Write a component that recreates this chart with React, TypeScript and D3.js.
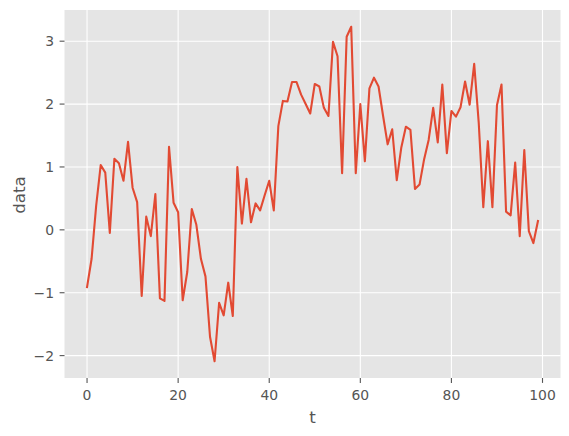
import React, { useRef, useEffect } from "react";
import * as d3 from "d3";

// values, t = 0..99
const tValues = d3.range(0, 100);
const dataValues = [
  -0.91, -0.46, 0.38, 1.03, 0.91, -0.05, 1.13, 1.06, 0.78, 1.4,
  0.67, 0.44, -1.05, 0.21, -0.1, 0.57, -1.09, -1.13, 1.32, 0.43,
  0.28, -1.12, -0.67, 0.33, 0.08, -0.46, -0.74, -1.7, -2.09, -1.16,
  -1.36, -0.84, -1.37, 1.0, 0.1, 0.81, 0.12, 0.42, 0.31, 0.55,
  0.78, 0.31, 1.65, 2.05, 2.04, 2.35, 2.35, 2.15, 2.0, 1.85,
  2.32, 2.28, 1.94, 1.81, 2.99, 2.76, 0.9, 3.07, 3.23, 0.9,
  2.0, 1.09, 2.25, 2.42, 2.28, 1.81, 1.36, 1.6, 0.79, 1.31,
  1.64, 1.59, 0.65, 0.72, 1.12, 1.43, 1.94, 1.39, 2.31, 1.22,
  1.89, 1.8, 1.95, 2.36, 1.99, 2.64, 1.7, 0.36, 1.41, 0.36,
  1.98, 2.31, 0.29, 0.23, 1.07, -0.1, 1.27, -0.02, -0.21, 0.14,
];
const xTicks = [0, 20, 40, 60, 80, 100];
const yTicks = [-2, -1, 0, 1, 2, 3];

const App = () => {
  const ref = useRef<SVGSVGElement | null>(null);

  useEffect(() => {
    const W = 569,
      H = 436;
    const left = 64.5,
      right = 560.5,
      top = 10,
      bottom = 378;

    const svg = d3.select(ref.current);
    svg.selectAll("*").remove();

    const tMin = d3.min(tValues) as number,
      tMax = d3.max(tValues) as number;
    const tPad = (tMax - tMin) * 0.05;
    const x = d3.scaleLinear().domain([tMin - tPad, tMax + tPad]).range([left, right]);

    const vMin = d3.min(dataValues) as number,
      vMax = d3.max(dataValues) as number;
    const vPad = (vMax - vMin) * 0.05;
    const y = d3.scaleLinear().domain([vMin - vPad, vMax + vPad]).range([bottom, top]);

    svg.append("rect").attr("width", W).attr("height", H).attr("fill", "#ffffff");
    svg
      .append("rect")
      .attr("x", left)
      .attr("y", top)
      .attr("width", right - left)
      .attr("height", bottom - top)
      .attr("fill", "#e5e5e5");

    const grid = svg.append("g").attr("stroke", "#ffffff").attr("stroke-width", 1.1);
    xTicks.forEach((t) => {
      grid.append("line").attr("x1", x(t)).attr("x2", x(t)).attr("y1", top).attr("y2", bottom);
    });
    yTicks.forEach((v) => {
      grid.append("line").attr("x1", left).attr("x2", right).attr("y1", y(v)).attr("y2", y(v));
    });

    const line = d3
      .line<number>()
      .x((d, i) => x(tValues[i]))
      .y((d) => y(d));

    svg
      .append("path")
      .datum(dataValues)
      .attr("d", line)
      .attr("fill", "none")
      .attr("stroke", "#e24a33")
      .attr("stroke-width", 2.1)
      .attr("stroke-linejoin", "round")
      .attr("stroke-linecap", "square");

    const fmt = (v: number) => (v < 0 ? "\u2212" + Math.abs(v) : String(v));
    const font = "DejaVu Sans, sans-serif";

    const xa = svg.append("g");
    xTicks.forEach((t) => {
      xa.append("line")
        .attr("x1", x(t))
        .attr("x2", x(t))
        .attr("y1", bottom)
        .attr("y2", bottom + 4.9)
        .attr("stroke", "#555555")
        .attr("stroke-width", 1.1);
      xa.append("text")
        .attr("x", x(t))
        .attr("y", 400)
        .attr("text-anchor", "middle")
        .attr("font-family", font)
        .attr("font-size", 13.9)
        .attr("fill", "#555555")
        .text(fmt(t));
    });

    const ya = svg.append("g");
    yTicks.forEach((v) => {
      ya.append("line")
        .attr("x1", left - 4.9)
        .attr("x2", left)
        .attr("y1", y(v))
        .attr("y2", y(v))
        .attr("stroke", "#555555")
        .attr("stroke-width", 1.1);
      ya.append("text")
        .attr("x", left - 10.5)
        .attr("y", y(v))
        .attr("dy", "0.36em")
        .attr("text-anchor", "end")
        .attr("font-family", font)
        .attr("font-size", 13.9)
        .attr("fill", "#555555")
        .text(fmt(v));
    });

    svg
      .append("text")
      .attr("x", (left + right) / 2)
      .attr("y", 423)
      .attr("text-anchor", "middle")
      .attr("font-family", font)
      .attr("font-size", 16.7)
      .attr("fill", "#555555")
      .text("t");

    svg
      .append("text")
      .attr("transform", `translate(24.5,${(top + bottom) / 2 + 1}) rotate(-90)`)
      .attr("text-anchor", "middle")
      .attr("font-family", font)
      .attr("font-size", 16.7)
      .attr("fill", "#555555")
      .text("data");
  }, []);

  return (
    <svg
      ref={ref}
      width={569}
      height={436}
      style={{ display: "block", position: "absolute", left: 0, top: 0 }}
    />
  );
};

export default App;
